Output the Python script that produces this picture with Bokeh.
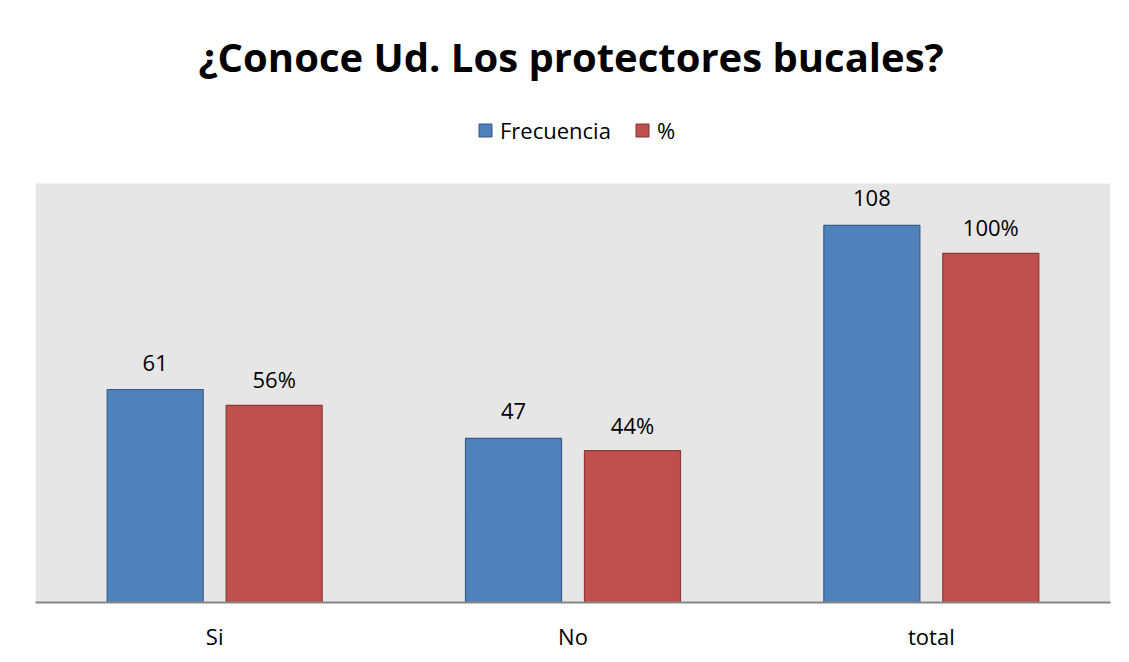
from bokeh.plotting import figure
from bokeh.models import (ColumnDataSource, FactorRange, Range1d, LabelSet,
                          Legend, LegendItem, BoxAnnotation)
from bokeh.transform import dodge
from bokeh.embed import file_html
from bokeh.resources import INLINE
from bokeh.core.properties import value

categories = ["Si", "No", "total"]
frecuencia = [61, 47, 108]
porcentaje = [56.48, 43.52, 100.0]
frec_labels = ["61", "47", "108"]
pct_labels = ["56%", "44%", "100%"]
Y_MAX = 120

FONT = "Open Sans"
BLUE, BLUE_LINE = "#4F81BD", "#385D8A"
RED, RED_LINE = "#C0504D", "#8C3836"

# layout geometry (pixels)
W, H = 1121, 654
FRAME_LEFT, FRAME_RIGHT = 35, 1110
FRAME_TOP, PLOT_TOP, FRAME_BOTTOM = 95, 183, 602
y_end = Y_MAX * (FRAME_BOTTOM - FRAME_TOP) / (FRAME_BOTTOM - PLOT_TOP)

source = ColumnDataSource(dict(cat=categories, frec=frecuencia, pct=porcentaje,
                               flab=frec_labels, plab=pct_labels))

p = figure(x_range=FactorRange(factors=categories, range_padding=0),
           y_range=Range1d(0, y_end),
           width=W, height=H,
           output_backend="svg", toolbar_location=None,
           min_border_left=FRAME_LEFT, min_border_right=W - FRAME_RIGHT,
           min_border_bottom=H - FRAME_BOTTOM, min_border_top=FRAME_TOP)

p.background_fill_color = "white"
p.border_fill_color = "white"
p.outline_line_color = None
p.xgrid.grid_line_color = None
p.ygrid.grid_line_color = None

# grey plot area
p.add_layout(BoxAnnotation(bottom=0, top=Y_MAX, fill_color="#E6E6E6", fill_alpha=1,
                           line_color=None, level="underlay"))

off = 0.166
bw = 0.268
rb = p.vbar(x=dodge("cat", -off, range=p.x_range), top="frec", width=bw, source=source,
            fill_color=BLUE, line_color=BLUE_LINE, line_width=1.2)
rr = p.vbar(x=dodge("cat", off, range=p.x_range), top="pct", width=bw, source=source,
            fill_color=RED, line_color=RED_LINE, line_width=1.2)

p.add_layout(LabelSet(x=dodge("cat", -off, range=p.x_range), y="frec", text="flab",
                      source=source, text_align="center", text_baseline="middle",
                      y_offset=27, text_font=value(FONT), text_font_size="22px",
                      text_color="black"))
p.add_layout(LabelSet(x=dodge("cat", off, range=p.x_range), y="pct", text="plab",
                      source=source, text_align="center", text_baseline="middle",
                      y_offset=26, text_font=value(FONT), text_font_size="22px",
                      text_color="black"))

p.yaxis.visible = False
xa = p.xaxis[0]
xa.axis_line_color = "#868686"
xa.axis_line_width = 2
xa.major_tick_line_color = None
xa.minor_tick_line_color = None
xa.major_label_text_font = FONT
xa.major_label_text_font_size = "22px"
xa.major_label_text_color = "black"
xa.major_label_standoff = 12

legend = Legend(items=[LegendItem(label="Frecuencia", renderers=[rb]),
                       LegendItem(label="%", renderers=[rr])],
                orientation="horizontal",
                location=(477 - FRAME_LEFT, FRAME_BOTTOM - 145),
                label_text_font=FONT, label_text_font_size="22px",
                label_text_color="black", label_height=22,
                glyph_width=16, glyph_height=16, label_standoff=7, spacing=23,
                border_line_color=None, background_fill_alpha=0,
                padding=0, margin=0)
p.add_layout(legend, "center")

p.title.text = "¿Conoce Ud. Los protectores bucales?"
p.title.align = "left"
p.title.offset = 198 - FRAME_LEFT
p.title.standoff = 24
p.title.text_font = FONT
p.title.text_font_style = "bold"
p.title.text_font_size = "40px"
p.title.text_color = "black"

open("out.html", "w").write(file_html(p, INLINE))
